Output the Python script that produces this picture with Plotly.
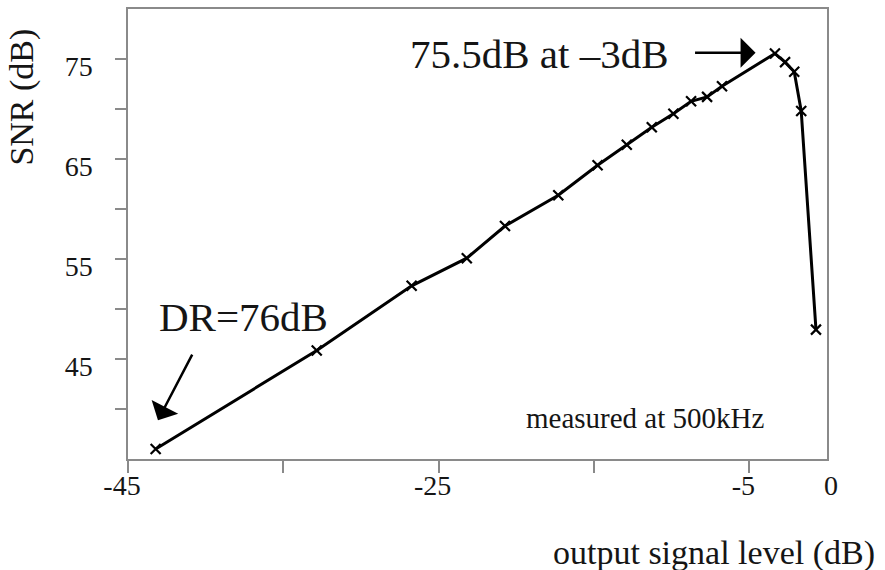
import plotly.graph_objects as go

# data
signal_level_db = [-43.22, -32.85, -26.74, -23.19, -20.73, -17.30, -14.77, -12.89, -11.28,
                   -9.89, -8.75, -7.72, -6.76, -3.35, -2.70, -2.11, -1.66, -0.71]
snr_db = [36.0, 45.85, 52.32, 55.08, 58.30, 61.38, 64.37, 66.43, 68.18,
          69.52, 70.77, 71.21, 72.27, 75.55, 74.69, 73.73, 69.80, 47.94]

x_tickvals = [-45, -35, -25, -15, -5]
x_ticktext = ["-45", "", "-25", "", "-5"]
y_tickvals = [40, 45, 50, 55, 60, 65, 70, 75]
y_ticktext = ["", "45", "", "55", "", "65", "", "75"]

FONT = "Liberation Serif, Times New Roman, serif"
TXT = "#151515"
AX = "#8a8a8a"

fig = go.Figure()
fig.add_trace(go.Scatter(
    x=signal_level_db, y=snr_db, mode="lines+markers",
    line=dict(color="#000000", width=3),
    marker=dict(symbol="x-thin", size=10, line=dict(color="#000000", width=2.2)),
    showlegend=False, hoverinfo="skip",
))

fig.update_layout(
    width=885, height=570,
    margin=dict(l=128, r=58, t=7, b=111),
    paper_bgcolor="white", plot_bgcolor="white",
    font=dict(family=FONT, color=TXT, size=28),
    xaxis=dict(range=[-45, 0], tickvals=x_tickvals, ticktext=x_ticktext,
               showgrid=False, zeroline=False, showline=True, mirror=True,
               linecolor=AX, linewidth=1.5, ticks="outside", ticklen=12,
               tickcolor=AX, tickwidth=1.5, tickfont=dict(size=28, family=FONT, color=TXT),
               ticklabelshift=-6, ticklabelstandoff=-11),
    yaxis=dict(range=[35, 80], tickvals=y_tickvals, ticktext=y_ticktext,
               showgrid=False, zeroline=False, showline=True, mirror=True,
               linecolor=AX, linewidth=1.5, ticks="outside", ticklen=11,
               tickcolor=AX, tickwidth=1.5, tickfont=dict(size=28, family=FONT, color=TXT),
               ticklabelshift=7, ticklabelstandoff=17),
)

# "0" label at the right end of the x axis
fig.add_annotation(text="0", xref="paper", yref="paper", x=(831 - 128) / 699,
                   y=(459 - 486) / 452, xanchor="center", yanchor="middle",
                   showarrow=False, font=dict(size=28, family=FONT, color=TXT))

# axis titles
fig.add_annotation(text="SNR (dB)", xref="paper", yref="paper", x=(22 - 128) / 699,
                   y=(459 - 96) / 452, textangle=-90, xanchor="center", yanchor="middle",
                   showarrow=False, font=dict(size=34, family=FONT, color=TXT))
fig.add_annotation(text="output signal level (dB)", xref="paper", yref="paper",
                   x=(877 - 128) / 699, y=(459 - 553) / 452, xanchor="right",
                   yanchor="middle", showarrow=False,
                   font=dict(size=34, family=FONT, color=TXT))

# text labels
fig.add_annotation(text="75.5dB at \u20133dB", xref="paper", yref="paper",
                   x=(539 - 128) / 699, y=(459 - 52) / 452, xanchor="center",
                   yanchor="middle", showarrow=False,
                   font=dict(size=41, family=FONT, color=TXT))
fig.add_annotation(text="DR=76dB", xref="paper", yref="paper",
                   x=(243.5 - 128) / 699, y=(459 - 316) / 452, xanchor="center",
                   yanchor="middle", showarrow=False,
                   font=dict(size=41, family=FONT, color=TXT))
fig.add_annotation(text="measured at 500kHz", xref="paper", yref="paper",
                   x=(645 - 128) / 699, y=(459 - 418) / 452, xanchor="center",
                   yanchor="middle", showarrow=False,
                   font=dict(size=29, family=FONT, color=TXT))

# arrows
fig.add_annotation(text="", x=-4.6, y=75.62, xref="x", yref="y", ax=-62, ay=0,
                   showarrow=True, arrowhead=1, arrowsize=2, arrowwidth=2.5,
                   arrowcolor="#000000", standoff=0)
fig.add_annotation(text="", x=-43.07, y=38.88, xref="x", yref="y", ax=35, ay=-67,
                   showarrow=True, arrowhead=1, arrowsize=2, arrowwidth=2.5,
                   arrowcolor="#000000", standoff=0)

fig.write_html("out.html")
